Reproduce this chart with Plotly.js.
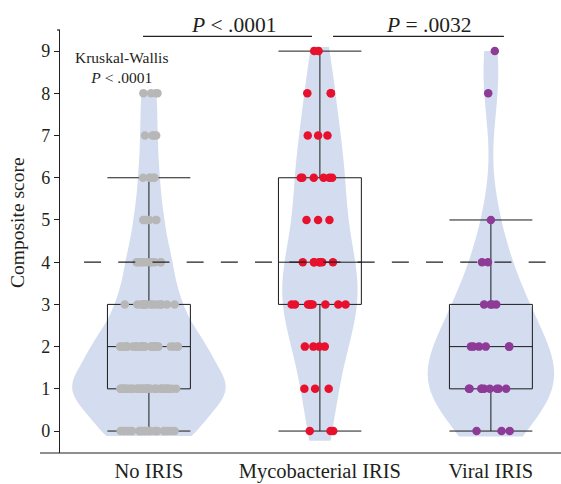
<!DOCTYPE html>
<html>
<head>
<meta charset="utf-8">
<script src="https://cdn.plot.ly/plotly-3.0.1.min.js"></script>
<style>html,body{margin:0;padding:0;background:#fff;}#chart{width:561px;height:484px;}</style>
</head>
<body>
<div id="chart"></div>
<script>
// ---- data ----
const categories = ['No IRIS', 'Mycobacterial IRIS', 'Viral IRIS'];
const scoreLevels = [0, 1, 2, 3, 4, 5, 6, 7, 8, 9];
// number of patients at each composite score level (0..9)
const noIrisCounts = [23, 40, 27, 15, 11, 7, 5, 4, 4, 0];
const mycoCounts   = [3, 3, 4, 9, 7, 3, 6, 3, 3, 2];
const viralCounts  = [3, 9, 6, 4, 2, 1, 0, 0, 1, 1];
const yTickVals = [0, 1, 2, 3, 4, 5, 6, 7, 8, 9];
const threshold = 4;
const pairLabels = ['<i>P</i> < .0001', '<i>P</i> = .0032'];
const kwLabel = 'Kruskal-Wallis<br><i>P</i> < .0001';
const yTitle = 'Composite score';

function expand(counts) {
  const out = [];
  counts.forEach((n, i) => { for (let k = 0; k < n; k++) out.push(scoreLevels[i]); });
  return out;
}
const groups = [
  {cat: categories[0], vals: expand(noIrisCounts), color: '#b7b7b7', vw: 0.895, bw: 0.55, span: [-0.12, 8.05], jitter: 0.7},
  {cat: categories[1], vals: expand(mycoCounts),   color: '#e8112d', vw: 0.44,  bw: 1.05, span: [-0.23, 9.1],  jitter: 0.7},
  {cat: categories[2], vals: expand(viralCounts),  color: '#8d3b97', vw: 0.74,  bw: 0.9,  span: [-0.13, 9.0],  jitter: 0.7}
];

const FONT = 'Liberation Serif, Times New Roman, serif';
const TXT = '#231f20';
const traces = [];
groups.forEach(g => {
  traces.push({
    type: 'violin', x0: g.cat, y: g.vals, name: g.cat,
    fillcolor: '#d4ddef', line: {width: 0, color: '#d4ddef'},
    points: false, box: {visible: false}, meanline: {visible: false},
    bandwidth: g.bw, spanmode: 'manual', span: g.span,
    width: g.vw, scalemode: 'width', hoverinfo: 'skip'
  });
});
groups.forEach(g => {
  traces.push({
    type: 'box', x0: g.cat, y: g.vals, name: g.cat,
    width: 0.485, boxpoints: 'all', jitter: g.jitter, pointpos: 0,
    fillcolor: 'rgba(0,0,0,0)', line: {color: '#1a1a1a', width: 1}, whiskerwidth: 1,
    marker: {color: g.color, size: 8.5, line: {width: 0}},
    hoverinfo: 'skip'
  });
});

const layout = {
  width: 561, height: 484,
  margin: {l: 60, r: 0, t: 30, b: 31},
  paper_bgcolor: '#fff', plot_bgcolor: '#fff',
  showlegend: false,
  violinmode: 'overlay', boxmode: 'overlay',
  font: {family: FONT, color: TXT},
  xaxis: {
    type: 'category', categoryorder: 'array', categoryarray: categories,
    range: [-0.52, 2.41], showline: false, ticks: '', showgrid: false, zeroline: false,
    tickfont: {family: FONT, size: 20.5, color: TXT}, ticklabelstandoff: 3
  },
  yaxis: {
    range: [-0.52, 9.5], tickvals: yTickVals, showline: true, linecolor: '#231f20', linewidth: 1.2,
    ticks: 'outside', ticklen: 5, tickwidth: 1, tickcolor: '#231f20',
    showgrid: false, zeroline: false,
    tickfont: {family: FONT, size: 18, color: TXT}
  },
  shapes: [
    {type: 'line', xref: 'paper', yref: 'y', x0: 0.048, x1: 0.972, y0: threshold, y1: threshold,
     line: {color: '#231f20', width: 1.2, dash: '17px,17.2px'}, layer: 'above'},
    {type: 'line', xref: 'paper', yref: 'paper', x0: -0.04, x1: 1, y0: 0, y1: 0,
     line: {color: '#231f20', width: 1.2}},
    {type: 'line', xref: 'paper', yref: 'paper', x0: -0.006, x1: 0, y0: 1, y1: 1,
     line: {color: '#231f20', width: 1.2}},
    {type: 'line', xref: 'paper', yref: 'paper', x0: 0.1657, x1: 0.503, y0: 0.985, y1: 0.985,
     line: {color: '#231f20', width: 1.2}},
    {type: 'line', xref: 'paper', yref: 'paper', x0: 0.545, x1: 0.886, y0: 0.985, y1: 0.985,
     line: {color: '#231f20', width: 1.2}}
  ],
  annotations: [
    {xref: 'paper', yref: 'paper', x: 0.347, y: 1.0125, xanchor: 'center', yanchor: 'middle',
     text: pairLabels[0], showarrow: false, font: {family: FONT, size: 21.5, color: TXT}},
    {xref: 'paper', yref: 'paper', x: 0.7365, y: 1.0125, xanchor: 'center', yanchor: 'middle',
     text: pairLabels[1], showarrow: false, font: {family: FONT, size: 21.5, color: TXT}},
    {xref: 'paper', yref: 'paper', x: 0.1218, y: 0.911, xanchor: 'center', yanchor: 'middle',
     text: kwLabel, showarrow: false, font: {family: FONT, size: 15.5, color: TXT}},
    {xref: 'paper', yref: 'paper', x: -0.0838, y: 0.544, xanchor: 'center', yanchor: 'middle',
     text: yTitle, textangle: -90, showarrow: false, font: {family: FONT, size: 19.5, color: TXT}}
  ]
};

Plotly.newPlot('chart', traces, layout, {displayModeBar: false, staticPlot: true});
</script>
</body>
</html>
